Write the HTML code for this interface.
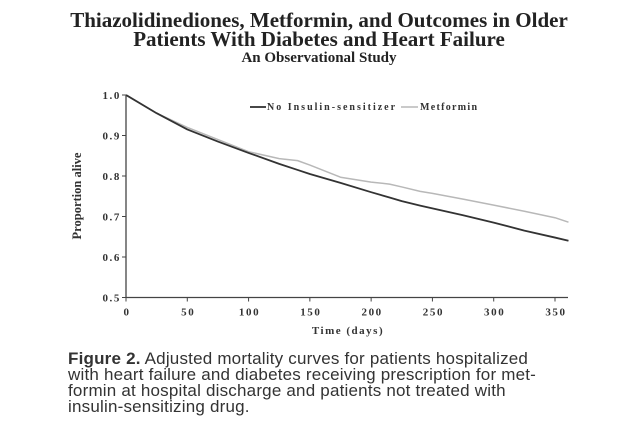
<!DOCTYPE html>
<html><head><meta charset="utf-8"><style>
body{margin:0;width:638px;height:426px;background:#fff;overflow:hidden;position:relative}
.t{position:absolute;left:0;width:638px;text-align:center;font-family:"Liberation Serif",serif;font-weight:bold;color:#222;white-space:nowrap}
#cap{position:absolute;left:68px;top:351px;font-family:"Liberation Sans",sans-serif;font-size:17px;letter-spacing:0.2px;line-height:16px;color:#333;white-space:nowrap}
</style></head><body>
<div class="t" style="top:9px;font-size:21px;line-height:22px">Thiazolidinediones, Metformin, and Outcomes in Older</div>
<div class="t" style="top:28px;font-size:21px;line-height:22px">Patients With Diabetes and Heart Failure</div>
<div class="t" style="top:49px;font-size:15px;line-height:18px">An Observational Study</div>
<svg id="chart" width="638" height="426" style="position:absolute;left:0;top:0"></svg>
<div id="cap"><b>Figure 2.</b> Adjusted mortality curves for patients hospitalized<br>with heart failure and diabetes receiving prescription for met-<br>formin at hospital discharge and patients not treated with<br>insulin-sensitizing drug.</div>
<script>
const days=[0,25,50,75,100,125,140,150,175,200,215,225,240,250,275,300,325,350,361];
const noInsulin=[1.0,0.955,0.915,0.885,0.857,0.83,0.815,0.805,0.783,0.76,0.747,0.738,0.727,0.72,0.703,0.685,0.665,0.648,0.64];
const metformin=[1.0,0.955,0.92,0.89,0.86,0.843,0.838,0.827,0.797,0.785,0.78,0.773,0.762,0.757,0.743,0.728,0.713,0.697,0.686];
const xTicks=[0,50,100,150,200,250,300,350];
const yTicks=[0.5,0.6,0.7,0.8,0.9,1.0];
const NS="http://www.w3.org/2000/svg";
const svg=document.getElementById('chart');
const X0=126,XS=1.2257,Y0=95,YS=405;
const x=d=>X0+d*XS, y=v=>Y0+(1-v)*YS;
function mk(t,a,p){const e=document.createElementNS(NS,t);for(const k in a)e.setAttribute(k,a[k]);(p||svg).appendChild(e);return e;}
const axY=mk('line',{x1:X0,y1:Y0,x2:X0,y2:y(0.5),stroke:'#444','stroke-width':1.3});


const axX=mk('line',{x1:X0,y1:y(0.5),x2:568,y2:y(0.5),stroke:'#444','stroke-width':1.3});


const F='font-family:"Liberation Serif",serif;font-weight:bold;fill:#333;font-size:11px';
yTicks.forEach(v=>{
 mk('line',{x1:X0-4,x2:X0,y1:y(v),y2:y(v),stroke:'#444'});
 const t=mk('text',{x:X0-5,y:y(v)+4,'text-anchor':'end',style:F+';letter-spacing:1.6px'});t.textContent=v.toFixed(1);
 
 
});
xTicks.forEach(d=>{
 mk('line',{x1:x(d),x2:x(d),y1:y(0.5),y2:y(0.5)+4,stroke:'#444'});
 const t=mk('text',{x:x(d)+1,y:y(0.5)+18,'text-anchor':'middle',style:F+';letter-spacing:1.6px'});t.textContent=d;
 
 
});
const xt=mk('text',{x:348,y:334,'text-anchor':'middle',style:F+';letter-spacing:1.5px'});xt.textContent='Time (days)';


const yt=mk('text',{x:0,y:0,'text-anchor':'middle',transform:'translate(81,196) rotate(-90)',style:F+';font-size:12.5px'});yt.textContent='Proportion alive';


function line(vals,col,w,name){
 const p=mk('polyline',{points:days.map((d,i)=>x(d)+','+y(vals[i])).join(' '),fill:'none',stroke:col,'stroke-width':w,'stroke-linejoin':'round'});
 
 
}
line(metformin,'#b8b8b8',1.5,'metformin-line');
line(noInsulin,'#333',1.8,'no-insulin-sensitizer-line');
mk('line',{x1:250,x2:266,y1:107,y2:107,stroke:'#333','stroke-width':1.8});
const l1=mk('text',{x:267,y:110,style:F+';font-size:10px;letter-spacing:2px'});l1.textContent='No Insulin-sensitizer';


mk('line',{x1:401,x2:418,y1:107,y2:107,stroke:'#b8b8b8','stroke-width':1.5});
const l2=mk('text',{x:420,y:110,style:F+';font-size:10px;letter-spacing:1.3px'});l2.textContent='Metformin';


</script>
</body></html>
